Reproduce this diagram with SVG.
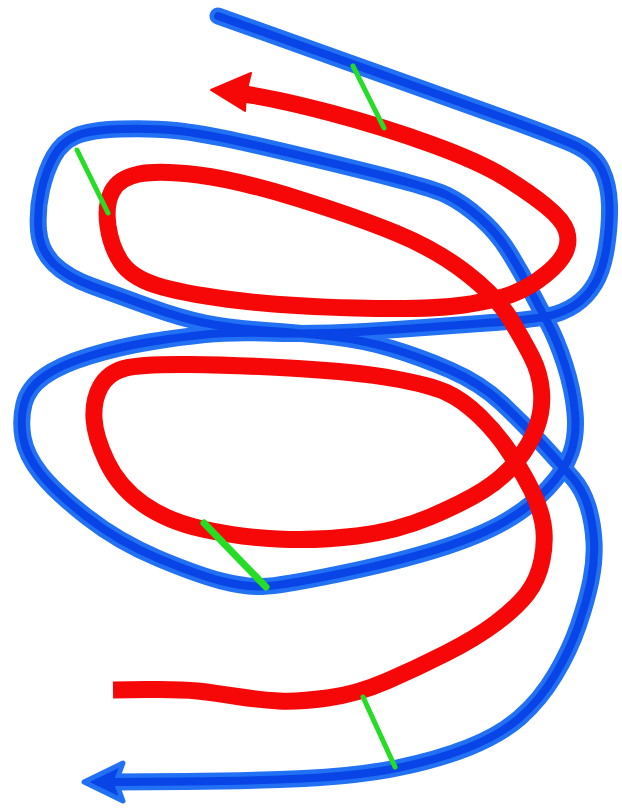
<svg xmlns="http://www.w3.org/2000/svg" width="622" height="808" viewBox="0 0 622 808">
<style>
.bo{fill:none;stroke:#2270f3;stroke-width:17;stroke-linecap:round;stroke-linejoin:round}
.bi{fill:none;stroke:#0844e6;stroke-width:8;stroke-linecap:round;stroke-linejoin:round}
.rd{fill:none;stroke:#f70808;stroke-width:17;stroke-linecap:butt;stroke-linejoin:round}
.gr{stroke:#25dd25;stroke-width:5;stroke-linecap:round}
</style>
<rect width="622" height="808" fill="#ffffff"/>
<defs>
<path id="bluePath" d="M 218,16 Q 400,81 480,109.5 Q 560,138 577.5,146.5 Q 595,155 602,170 Q 609,185 609.5,205 Q 610,225 606.5,247.5 Q 603,270 595,283.5 Q 587,297 575,305 Q 563,313 546.5,316.5 Q 530,320 480,323.5 Q 430,327 396.5,329.5 Q 363,332 331.5,333 Q 300,334 265,333 Q 230,332 205,334.5 Q 180,337 149.5,342 Q 119,347 89.5,356 Q 60,365 44,376.5 Q 28,388 24,404 Q 20,420 23,437.5 Q 26,455 40.5,473.5 Q 55,492 87,517 Q 119,542 158.5,558.5 Q 198,575 221.5,581 Q 245,587 262.5,586.5 Q 280,586 338.5,574 Q 397,562 438.5,549 Q 480,536 505,521.5 Q 530,507 547.5,488.5 Q 565,470 571,452.5 Q 577,435 575,412.5 Q 573,390 565,365 Q 557,340 547,321.5 Q 537,303 528.5,286.5 Q 520,270 508.5,251.5 Q 497,233 480,218 Q 463,203 446.5,195 Q 430,187 354,168.5 Q 278,150 239,141.5 Q 200,133 175.5,130.5 Q 151,128 120.5,129 Q 90,130 76,136 Q 62,142 54,156 Q 46,170 41.5,190 Q 37,210 38.5,230 Q 40,250 53.5,263.5 Q 67,277 92,286 Q 117,295 148.5,306.5 Q 180,318 205,323 Q 230,328 265,330.5 Q 300,333 331.5,336.5 Q 363,340 391.5,348.5 Q 420,357 450,370 Q 480,383 501.5,403 Q 523,423 543,445 Q 563,467 573,478.5 Q 583,490 588,506.5 Q 593,523 594,541.5 Q 595,560 591,580 Q 587,600 578.5,625 Q 570,650 555,675 Q 540,700 520,717.5 Q 500,735 468.5,747.5 Q 437,760 397,768 Q 357,776 303.5,778.5 Q 250,781 185,781.5 L 112,782"/>
</defs>
<g id="blue-curve">
<use href="#bluePath" class="bo"/>
<polygon points="84,782 123,763 116,782 123,801" fill="#0844e6" stroke="#2270f3" stroke-width="5" stroke-linejoin="round"/>
<use href="#bluePath" class="bi"/>
</g>
<g id="red-curve">
<path class="rd" d="M 244,94 Q 278,99 331,113 Q 384,127 432,144.5 Q 480,162 505,177.5 Q 530,193 546.5,206.5 Q 563,220 566.5,231 Q 570,242 565,252.5 Q 560,263 545,275 Q 530,287 513.5,293.5 Q 497,300 463.5,305 Q 430,310 355,308 Q 280,306 230,299.5 Q 180,293 155.5,285 Q 131,277 121,262 Q 111,247 108,226 Q 105,205 112,191.5 Q 119,178 139,174 Q 159,170 198.5,175 Q 238,180 297.5,198.5 Q 357,217 397,233.5 Q 437,250 467,273.5 Q 497,297 510,318.5 Q 523,340 531.5,356.5 Q 540,373 541.5,391.5 Q 543,410 536.5,427.5 Q 530,445 516.5,461.5 Q 503,478 483,490.5 Q 463,503 430,517 Q 397,531 357,536 Q 317,541 277.5,539 Q 238,537 202.5,529 Q 167,521 143,504 Q 119,487 107,462 Q 95,437 94,418.5 Q 93,400 100.5,386.5 Q 108,373 124,368.5 Q 140,364 189,364.5 Q 238,365 297.5,368.5 Q 357,372 393.5,378.5 Q 430,385 446.5,392.5 Q 463,400 480,416.5 Q 497,433 510,453 Q 523,473 531.5,490 Q 540,507 543,523.5 Q 546,540 542,560 Q 538,580 527,594 Q 516,608 496,623 Q 476,638 446.5,653 Q 417,668 387,681 Q 357,694 327.5,698 Q 298,702 279,701 Q 260,700 237.5,696.5 Q 215,693 197.5,691 Q 180,689 146.5,689.5 L 113,690"/>
<polygon points="211,90 251,73 246,93 245,111" fill="#f70808" stroke="#f70808" stroke-width="2" stroke-linejoin="round"/>
</g>
<g id="green-ticks">
<line class="gr" x1="353" y1="66" x2="384" y2="128"/>
<line class="gr" x1="77" y1="150" x2="108" y2="213"/>
<line class="gr" x1="204" y1="523" x2="266" y2="587" style="stroke-width:7"/>
<line class="gr" x1="363" y1="697" x2="395" y2="767"/>
</g>
</svg>
